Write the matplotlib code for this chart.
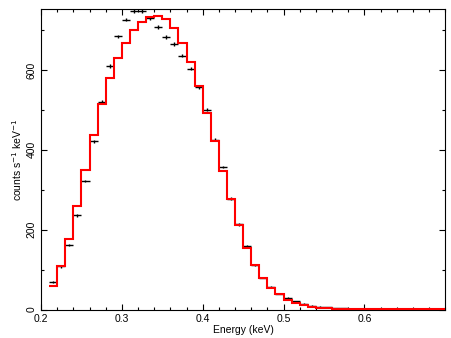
import numpy as np
import matplotlib
matplotlib.use("Agg")
import matplotlib.pyplot as plt
from matplotlib.ticker import MultipleLocator

plt.rcParams['font.family'] = ['Liberation Sans', 'DejaVu Sans']

# bin edges (keV)
bin_lo = [0.21, 0.22, 0.23, 0.24, 0.25, 0.26, 0.27, 0.28, 0.29, 0.30,
          0.31, 0.32, 0.33, 0.34, 0.35, 0.36, 0.37, 0.38, 0.39, 0.40,
          0.41, 0.42, 0.43, 0.44, 0.45, 0.46, 0.47, 0.48, 0.49, 0.50,
          0.51, 0.52, 0.53, 0.54, 0.55, 0.56, 0.57, 0.58, 0.59, 0.60,
          0.61, 0.62, 0.63, 0.64, 0.65, 0.66, 0.67, 0.68, 0.69]
bin_width = 0.01

# observed data (counts s^-1 keV^-1)
data_counts = [69, 108, 162, 236, 322, 421, 520, 610, 684, 726,
               748, 747, 730, 708, 682, 665, 636, 603, 557, 500,
               425, 357, 278, 213, 158, 112, 80, 56, 40, 30,
               21, 15, 9.5, 7, 5.5, 4, 3.2, 2.5, 2.0, 1.6,
               1.3, 1.0, 0.8, 0.6, 0.5, 0.4, 0.3, 0.25, 0.2]
data_err = [2.5, 3, 3, 3.5, 3.5, 4, 4, 4, 4.5, 4.5,
            4.5, 4.5, 4.5, 4.5, 4.5, 4.5, 4.5, 4, 4, 4,
            4, 3.5, 3.5, 3, 3, 2.5, 2, 2, 1.5, 1.5,
            1.2, 1, 0.8, 0.8, 0.7, 0.6, 0.5, 0.5, 0.4, 0.4,
            0.3, 0.3, 0.3, 0.2, 0.2, 0.2, 0.2, 0.2, 0.2]

# model (folded) values
model_counts = [59, 109, 177, 260, 350, 438, 514, 580, 630, 667,
                700, 721, 733, 736, 728, 704, 668, 620, 560, 492,
                421, 347, 276, 211, 155, 111, 80, 55, 40, 25,
                17, 10.5, 6.5, 4, 3, 2.2, 1.6, 1.1, 0.8, 0.55,
                0.4, 0.3, 0.2, 0.15, 0.12, 0.1, 0.08, 0.06, 0.05]

x_ticks = [0.2, 0.3, 0.4, 0.5, 0.6]
y_ticks = [0, 200, 400, 600]

lo = np.array(bin_lo)
centers = lo + bin_width / 2
edges = np.append(lo, lo[-1] + bin_width)

fig = plt.figure(figsize=(4.52, 3.38), dpi=100)
ax = fig.add_axes([0.0907, 0.0843, 0.8943, 0.8882])

ax.errorbar(centers, data_counts, xerr=bin_width / 2, yerr=data_err,
            fmt='none', ecolor='black', elinewidth=1.0, capsize=0, zorder=2)
ax.stairs(model_counts, edges, baseline=None, color='red', linewidth=1.5, zorder=3)

ax.set_xlim(0.2, 0.7)
ax.set_ylim(0, 752)
ax.set_xticks(x_ticks)
ax.set_xticklabels([f"{v:.1f}" for v in x_ticks])
ax.set_yticks(y_ticks)
ax.set_yticklabels([str(v) for v in y_ticks], rotation=90, va='center')
ax.xaxis.set_minor_locator(MultipleLocator(0.02))
ax.yaxis.set_minor_locator(MultipleLocator(100))

ax.tick_params(which='both', direction='in', top=True, right=True,
               labelsize=7.5, width=0.8, pad=3)
ax.tick_params(which='major', length=4)
ax.tick_params(which='minor', length=2.5)
for s in ax.spines.values():
    s.set_linewidth(0.8)

ax.set_xlabel('Energy (keV)', fontsize=7.5, labelpad=1)
ax.set_ylabel('counts s$^{-1}$ keV$^{-1}$', fontsize=7.5, labelpad=2)

fig.savefig('out.png', dpi=100)
